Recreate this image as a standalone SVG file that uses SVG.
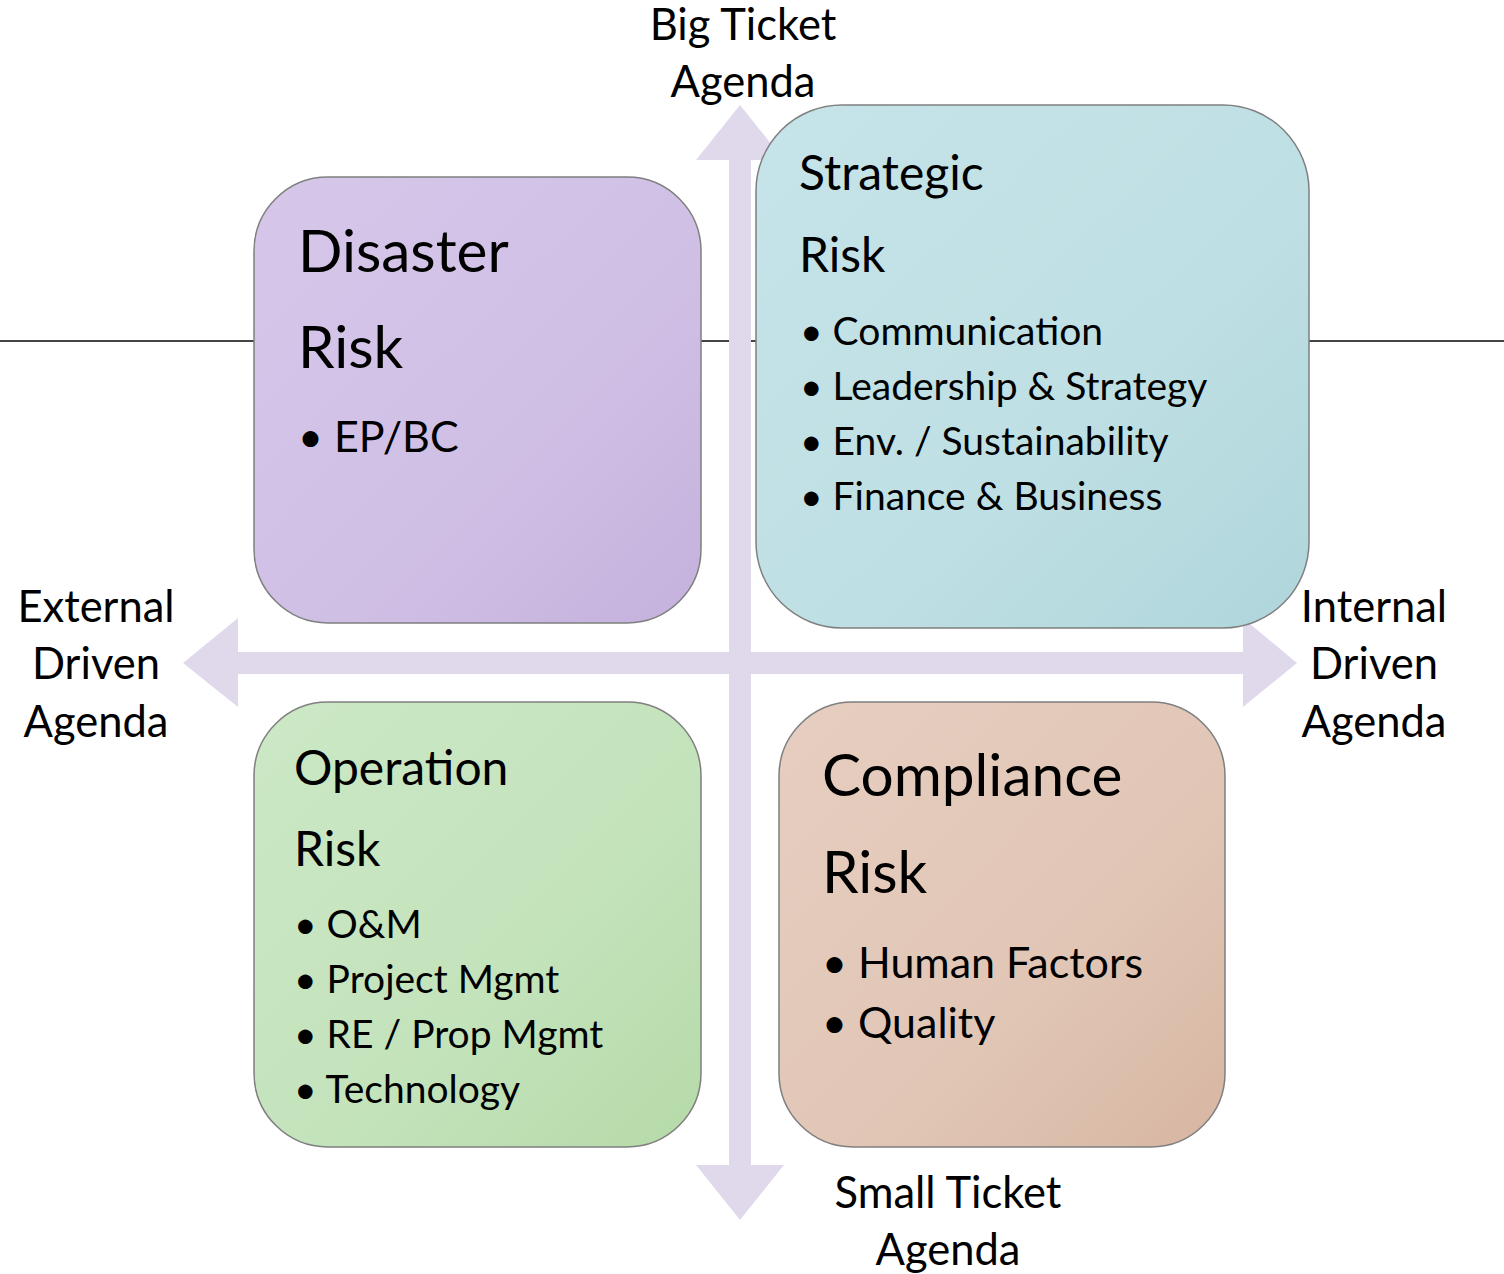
<svg xmlns="http://www.w3.org/2000/svg" width="1504" height="1274" viewBox="0 0 1504 1274">
<defs>
<linearGradient id="gP" x1="0" y1="0" x2="1" y2="1"><stop offset="0" stop-color="#D6C7EA"/><stop offset="0.6" stop-color="#D0BFE5"/><stop offset="1" stop-color="#C4B1DD"/></linearGradient>
<linearGradient id="gB" x1="0" y1="0" x2="1" y2="1"><stop offset="0" stop-color="#C6E4E9"/><stop offset="0.6" stop-color="#BEDFE3"/><stop offset="1" stop-color="#AFD6DB"/></linearGradient>
<linearGradient id="gG" x1="0" y1="0" x2="1" y2="1"><stop offset="0" stop-color="#CCE8C6"/><stop offset="0.6" stop-color="#C3E3BB"/><stop offset="1" stop-color="#B5DAA8"/></linearGradient>
<linearGradient id="gO" x1="0" y1="0" x2="1" y2="1"><stop offset="0" stop-color="#E6CEC0"/><stop offset="0.6" stop-color="#E1C6B6"/><stop offset="1" stop-color="#D7B6A2"/></linearGradient>
<style>
text{font-family:Lato,"Liberation Sans",sans-serif;fill:#000}
.box{stroke:#7F7F7F;stroke-width:1.5}
.arrow{fill:#E0D9EC}
.lbl{font-size:43.5px;text-anchor:middle}
.t1{font-size:58.5px}
.t2{font-size:48px}
.b1{font-size:43px}
.b2{font-size:39px}
</style>
</defs>
<g id="connectors">
<line x1="0" y1="341" x2="1504" y2="341" stroke="#444" stroke-width="2"/>
<polygon class="arrow" points="740,105 784,160 751,160 751,1165 784,1165 740,1220 696,1165 729,1165 729,160 696,160"/>
<polygon class="arrow" points="183,663 238,618 238,652 1243,652 1243,618 1297,663 1243,707 1243,674 238,674 238,707"/>
</g>
<g id="disaster">
<rect class="box" x="254" y="177" width="447" height="446" rx="74" fill="url(#gP)"/>
<text class="t1" x="298" y="272">Disaster</text>
<text class="t1" x="298" y="368">Risk</text>
<text class="b1" x="298" y="452">• EP/BC</text>
</g>
<g id="strategic">
<rect class="box" x="756" y="105" width="553" height="523" rx="86" fill="url(#gB)"/>
<text class="t2" x="799" y="190">Strategic</text>
<text class="t2" x="799" y="272">Risk</text>
<text class="b2" x="800" y="345">• Communication</text>
<text class="b2" x="800" y="400">• Leadership &amp; Strategy</text>
<text class="b2" x="800" y="455">• Env. / Sustainability</text>
<text class="b2" x="800" y="510">• Finance &amp; Business</text>
</g>
<g id="operation">
<rect class="box" x="254" y="702" width="447" height="445" rx="74" fill="url(#gG)"/>
<text class="t2" x="294" y="785">Operation</text>
<text class="t2" x="294" y="866">Risk</text>
<text class="b2" x="294" y="938">• O&amp;M</text>
<text class="b2" x="294" y="993">• Project Mgmt</text>
<text class="b2" x="294" y="1048">• RE / Prop Mgmt</text>
<text class="b2" x="294" y="1103">• Technology</text>
</g>
<g id="compliance">
<rect class="box" x="779" y="702" width="446" height="445" rx="74" fill="url(#gO)"/>
<text class="t1" x="822" y="796">Compliance</text>
<text class="t1" x="822" y="893">Risk</text>
<text class="b1" x="822" y="978">• Human Factors</text>
<text class="b1" x="822" y="1038">• Quality</text>
</g>
<g id="labels">
<text class="lbl" x="743" y="40">Big Ticket</text>
<text class="lbl" x="743" y="97">Agenda</text>
<text class="lbl" x="96" y="622">External</text>
<text class="lbl" x="96" y="679">Driven</text>
<text class="lbl" x="96" y="737">Agenda</text>
<text class="lbl" x="1374" y="622">Internal</text>
<text class="lbl" x="1374" y="679">Driven</text>
<text class="lbl" x="1374" y="737">Agenda</text>
<text class="lbl" x="948" y="1208">Small Ticket</text>
<text class="lbl" x="948" y="1265">Agenda</text>
</g>
</svg>
